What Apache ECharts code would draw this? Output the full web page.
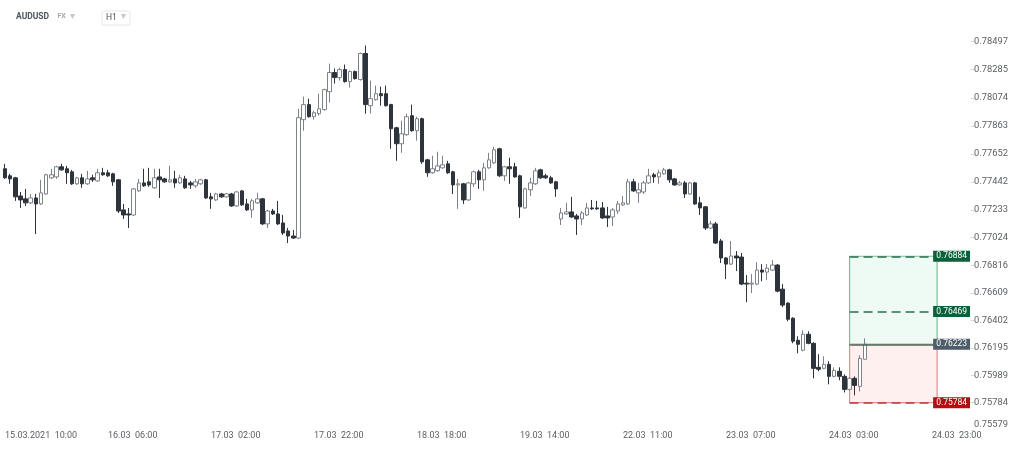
<!DOCTYPE html>
<html>
<head>
<meta charset="utf-8">
<script src="https://cdn.jsdelivr.net/npm/echarts@6/dist/echarts.min.js"></script>
<style>
html,body{margin:0;padding:0;background:#fff;}
#chart{width:1024px;height:450px;}
</style>
</head>
<body>
<div id="chart"></div>
<script>
// ---- DATA ----
// OHLC rows: [open, close, low, high], hourly AUDUSD H1 from 15.03.2021 10:00
const ohlc = [
[0.77541,0.77473,0.77465,0.77578],[0.77488,0.77465,0.77428,0.77503],[0.77473,0.77330,0.77300,0.77480],[0.77337,0.77307,0.77247,0.77367],
[0.77315,0.77285,0.77262,0.77390],[0.77285,0.77322,0.77277,0.77352],[0.77322,0.77277,0.77051,0.77352],[0.77277,0.77360,0.77270,0.77458],
[0.77352,0.77496,0.77345,0.77503],[0.77473,0.77496,0.77465,0.77541],[0.77480,0.77556,0.77465,0.77563],[0.77556,0.77533,0.77526,0.77578],
[0.77541,0.77511,0.77428,0.77563],[0.77518,0.77428,0.77420,0.77533],[0.77428,0.77473,0.77420,0.77480],[0.77473,0.77428,0.77398,0.77503],
[0.77428,0.77465,0.77420,0.77526],[0.77473,0.77458,0.77443,0.77496],[0.77450,0.77511,0.77443,0.77541],[0.77511,0.77496,0.77488,0.77548],
[0.77511,0.77488,0.77480,0.77533],[0.77503,0.77443,0.77413,0.77511],[0.77458,0.77224,0.77209,0.77465],[0.77232,0.77194,0.77164,0.77277],
[0.77202,0.77194,0.77096,0.77247],[0.77194,0.77390,0.77187,0.77398],[0.77375,0.77435,0.77367,0.77465],[0.77435,0.77413,0.77405,0.77541],
[0.77443,0.77420,0.77405,0.77548],[0.77398,0.77473,0.77390,0.77541],[0.77480,0.77458,0.77322,0.77541],[0.77465,0.77443,0.77435,0.77473],
[0.77443,0.77458,0.77435,0.77563],[0.77465,0.77435,0.77398,0.77526],[0.77435,0.77473,0.77428,0.77496],[0.77465,0.77398,0.77390,0.77488],
[0.77435,0.77420,0.77390,0.77450],[0.77413,0.77443,0.77398,0.77465],[0.77428,0.77458,0.77420,0.77465],[0.77458,0.77322,0.77315,0.77465],
[0.77330,0.77315,0.77240,0.77360],[0.77307,0.77352,0.77300,0.77360],[0.77352,0.77330,0.77322,0.77360],[0.77330,0.77352,0.77322,0.77360],
[0.77352,0.77262,0.77255,0.77360],[0.77262,0.77367,0.77255,0.77375],[0.77375,0.77270,0.77262,0.77382],[0.77277,0.77232,0.77224,0.77315],
[0.77232,0.77300,0.77172,0.77315],[0.77285,0.77315,0.77277,0.77360],[0.77315,0.77127,0.77119,0.77322],[0.77127,0.77224,0.77096,0.77232],
[0.77224,0.77202,0.77194,0.77240],[0.77202,0.77127,0.77119,0.77300],[0.77134,0.77059,0.77044,0.77194],[0.77074,0.77036,0.76983,0.77096],
[0.77036,0.77021,0.77014,0.77081],[0.77021,0.77925,0.77014,0.77992],[0.77910,0.78023,0.77827,0.78083],[0.78023,0.77932,0.77925,0.78068],
[0.77932,0.77962,0.77910,0.77977],[0.77955,0.77992,0.77940,0.78105],[0.77985,0.78136,0.77977,0.78143],[0.78120,0.78264,0.78038,0.78331],
[0.78264,0.78226,0.78181,0.78294],[0.78226,0.78286,0.78203,0.78301],[0.78286,0.78196,0.78188,0.78324],[0.78196,0.78271,0.78151,0.78279],
[0.78271,0.78218,0.78211,0.78279],[0.78211,0.78407,0.78203,0.78414],[0.78407,0.78023,0.77955,0.78467],[0.78015,0.78068,0.77955,0.78203],
[0.78060,0.78105,0.78053,0.78166],[0.78105,0.78090,0.78015,0.78158],[0.78105,0.78015,0.78008,0.78166],[0.78023,0.77842,0.77691,0.78030],
[0.77849,0.77729,0.77601,0.77857],[0.77729,0.77804,0.77661,0.77902],[0.77797,0.77932,0.77789,0.77955],[0.77940,0.77827,0.77819,0.78023],
[0.77827,0.77917,0.77752,0.77932],[0.77917,0.77593,0.77578,0.77925],[0.77608,0.77511,0.77480,0.77616],[0.77511,0.77541,0.77503,0.77639],
[0.77526,0.77563,0.77518,0.77669],[0.77548,0.77571,0.77541,0.77639],[0.77578,0.77511,0.77503,0.77601],[0.77518,0.77420,0.77352,0.77526],
[0.77420,0.77428,0.77240,0.77465],[0.77428,0.77307,0.77277,0.77435],[0.77307,0.77435,0.77300,0.77443],[0.77428,0.77518,0.77405,0.77526],
[0.77518,0.77458,0.77390,0.77533],[0.77458,0.77548,0.77375,0.77586],[0.77548,0.77608,0.77541,0.77661],[0.77586,0.77684,0.77578,0.77706],
[0.77691,0.77488,0.77480,0.77699],[0.77488,0.77556,0.77450,0.77563],[0.77556,0.77541,0.77428,0.77624],[0.77556,0.77480,0.77473,0.77586],
[0.77488,0.77255,0.77172,0.77496],[0.77247,0.77390,0.77240,0.77398],[0.77383,0.77435,0.77337,0.77473],[0.77428,0.77526,0.77420,0.77548],
[0.77533,0.77473,0.77465,0.77541],[0.77488,0.77473,0.77465,0.77503],[0.77473,0.77435,0.77428,0.77488],[0.77443,0.77390,0.77330,0.77450],
[0.77164,0.77209,0.77119,0.77247],[0.77202,0.77217,0.77194,0.77285],[0.77217,0.77179,0.77172,0.77330],[0.77187,0.77164,0.77044,0.77202],
[0.77164,0.77209,0.77119,0.77224],[0.77194,0.77247,0.77187,0.77285],[0.77247,0.77240,0.77232,0.77307],[0.77247,0.77240,0.77232,0.77300],
[0.77247,0.77172,0.77164,0.77292],[0.77187,0.77172,0.77104,0.77255],[0.77179,0.77232,0.77111,0.77247],[0.77224,0.77277,0.77202,0.77300],
[0.77270,0.77285,0.77262,0.77337],[0.77277,0.77443,0.77270,0.77465],[0.77443,0.77375,0.77367,0.77465],[0.77360,0.77383,0.77285,0.77435],
[0.77367,0.77435,0.77352,0.77450],[0.77435,0.77488,0.77428,0.77541],[0.77496,0.77480,0.77435,0.77511],[0.77480,0.77511,0.77428,0.77533],
[0.77503,0.77533,0.77496,0.77548],[0.77533,0.77458,0.77435,0.77541],[0.77465,0.77420,0.77413,0.77473],[0.77420,0.77435,0.77413,0.77450],
[0.77435,0.77352,0.77322,0.77450],[0.77352,0.77435,0.77345,0.77443],[0.77435,0.77277,0.77270,0.77443],[0.77285,0.77247,0.77194,0.77330],
[0.77255,0.77096,0.77081,0.77262],[0.77096,0.77127,0.77089,0.77149],[0.77127,0.76983,0.76976,0.77142],[0.76999,0.76871,0.76833,0.77014],
[0.76871,0.76825,0.76712,0.76878],[0.76825,0.76886,0.76818,0.76999],[0.76886,0.76871,0.76773,0.76923],[0.76878,0.76675,0.76667,0.76908],
[0.76682,0.76675,0.76539,0.76742],[0.76675,0.76682,0.76607,0.76750],[0.76675,0.76780,0.76667,0.76840],[0.76780,0.76765,0.76697,0.76825],
[0.76765,0.76795,0.76705,0.76825],[0.76780,0.76818,0.76773,0.76855],[0.76818,0.76622,0.76614,0.76825],[0.76637,0.76517,0.76502,0.76675],
[0.76532,0.76411,0.76396,0.76539],[0.76419,0.76246,0.76230,0.76426],[0.76253,0.76223,0.76155,0.76283],[0.76178,0.76298,0.76170,0.76328],
[0.76298,0.76230,0.76223,0.76321],[0.76230,0.76042,0.75967,0.76238],[0.76050,0.76035,0.76020,0.76148],[0.76042,0.76072,0.76035,0.76133],
[0.76072,0.75982,0.75922,0.76095],[0.75982,0.76027,0.75974,0.76050],[0.76020,0.75982,0.75952,0.76050],[0.75982,0.75884,0.75861,0.75997],
[0.75884,0.75967,0.75876,0.75974],[0.75967,0.75914,0.75839,0.75982],[0.75907,0.76117,0.75869,0.76140],[0.76110,0.76223,0.76110,0.76268]
];

// price-axis tick labels (ascending)
const yTickLabels = ['0.75579','0.75784','0.75989','0.76195','0.76402','0.76609','0.76816','0.77024','0.77233','0.77442','0.77652','0.77863','0.78074','0.78285','0.78497'];
// time-axis tick labels, one every 20 candles
const xTickLabels = ['15.03.2021  10:00','16.03  06:00','17.03  02:00','17.03  22:00','18.03  18:00','19.03  14:00','22.03  11:00','23.03  07:00','24.03  03:00','24.03  23:00'];

// position (trade) levels
const takeProfit = 0.76884;
const midTarget = 0.76469;
const entryPrice = 0.76223;
const stopLoss = 0.75784;
const boxStartIndex = 164;
const boxEndIndex = 181;

// total hourly slots shown on the time axis (candles + empty future slots)
const slotCount = 188;

// ---- build hourly categories (forex hours, weekend skipped) ----
function pad(n){return (n<10?'0':'')+n;}
const categories = [];
{
  let t = Date.UTC(2021, 2, 15, 10);
  while (categories.length < slotCount) {
    const d = new Date(t);
    const dow = d.getUTCDay();
    const h = d.getUTCHours();
    const closed = (dow === 6) || (dow === 0) || (dow === 5 && h >= 23);
    if (!closed) categories.push(pad(d.getUTCDate()) + '.' + pad(d.getUTCMonth()+1) + '  ' + pad(h) + ':00');
    t += 3600000;
  }
}

const yTickValues = yTickLabels.map(Number);
const yMin = yTickValues[0];
const yMax = yTickValues[yTickValues.length - 1];

const FONT = 'Roboto, "Noto Sans", sans-serif';
const chart = echarts.init(document.getElementById('chart'), null, {renderer: 'canvas'});

const candleW = 5.15;
const gridLeft = 2.4;
const gridRight = 1024 - gridLeft - slotCount * candleW;

function levelLine(value, color, type, labelBg) {
  return [
    {
      coord: [boxStartIndex, value],
      lineStyle: {color: color, type: type, width: 1.5},
      label: {
        show: true, position: 'end', distance: -4,
        formatter: value.toFixed(5),
        color: '#ffffff', backgroundColor: labelBg,
        fontFamily: FONT, fontSize: 8.5, lineHeight: 9,
        padding: [1, 3, 1, 3]
      }
    },
    {coord: [boxEndIndex, value]}
  ];
}

const option = {
  animation: false,
  backgroundColor: '#ffffff',
  grid: {left: gridLeft, right: gridRight, top: 41.5, bottom: 20, containLabel: false},
  xAxis: {
    type: 'category',
    data: categories,
    boundaryGap: true,
    axisLine: {show: false},
    axisTick: {show: false},
    splitLine: {show: false},
    axisLabel: {
      interval: 19,
      align: 'left',
      margin: 1.5,
      color: '#5a5e63',
      fontFamily: FONT,
      fontSize: 9,
      formatter: function (v, i) { return xTickLabels[Math.round(i / 20)] || ''; }
    }
  },
  yAxis: {
    type: 'value',
    position: 'right',
    min: yMin,
    max: yMax,
    scale: true,
    axisLine: {show: false},
    splitLine: {show: false},
    axisTick: {show: true, length: 4, customValues: yTickValues, lineStyle: {color: '#d5d7da'}},
    axisLabel: {
      customValues: yTickValues,
      margin: 3.5,
      color: '#5a5e63',
      fontFamily: FONT,
      fontSize: 9.3,
      formatter: function (v) {
        const s = v.toFixed(5);
        return Math.abs(v - yMin) < 1e-7 ? '{lo|' + s + '}' : s;
      },
      rich: {lo: {fontFamily: FONT, fontSize: 9.3, color: '#5a5e63', padding: [0, 0, 10, 0]}}
    }
  },
  graphic: [
    {type: 'text', left: 16, top: 12, style: {text: 'AUDUSD', font: 'bold 8.5px ' + FONT, fill: '#4f5459'}},
    {type: 'text', left: 57.5, top: 13, style: {text: 'FX', font: 'bold 7px ' + FONT, fill: '#a3a8ad'}},
    {type: 'text', left: 70, top: 11.5, style: {text: '▾', font: '10px ' + FONT, fill: '#c4c8cc'}},
    {type: 'rect', left: 101.5, top: 10.5, shape: {width: 28, height: 14, r: 2}, style: {fill: '#ffffff', stroke: '#e3e5e8', lineWidth: 1}},
    {type: 'text', left: 106, top: 13, style: {text: 'H1', font: '8.5px ' + FONT, fill: '#4f5459'}},
    {type: 'text', left: 120.5, top: 11.5, style: {text: '▾', font: '10px ' + FONT, fill: '#c4c8cc'}}
  ],
  series: [{
    type: 'candlestick',
    data: ohlc,
    barWidth: 4,
    itemStyle: {
      color: '#ffffff', borderColor: '#7d8288',
      color0: '#2e343b', borderColor0: '#2e343b',
      borderWidth: 1
    },
    markArea: {
      silent: true,
      data: [
        [
          {coord: [boxStartIndex, takeProfit], itemStyle: {color: '#eefaf4', borderColor: '#7fbb9c', borderWidth: 1.2}},
          {coord: [boxEndIndex, entryPrice]}
        ],
        [
          {coord: [boxStartIndex, entryPrice], itemStyle: {color: '#fdf0ef', borderColor: '#df8e8e', borderWidth: 1.2}},
          {coord: [boxEndIndex, stopLoss]}
        ]
      ]
    },
    markLine: {
      silent: true,
      symbol: ['none', 'none'],
      data: [
        levelLine(takeProfit, '#2d6f50', [9, 5], '#0b5f3a'),
        levelLine(midTarget, '#2d6f50', [9, 5], '#0b5f3a'),
        levelLine(entryPrice, '#456b59', 'solid', '#4d5d69'),
        levelLine(stopLoss, '#c23a3a', [9, 5], '#b40f0f')
      ]
    }
  }]
};
chart.setOption(option);
</script>
</body>
</html>
